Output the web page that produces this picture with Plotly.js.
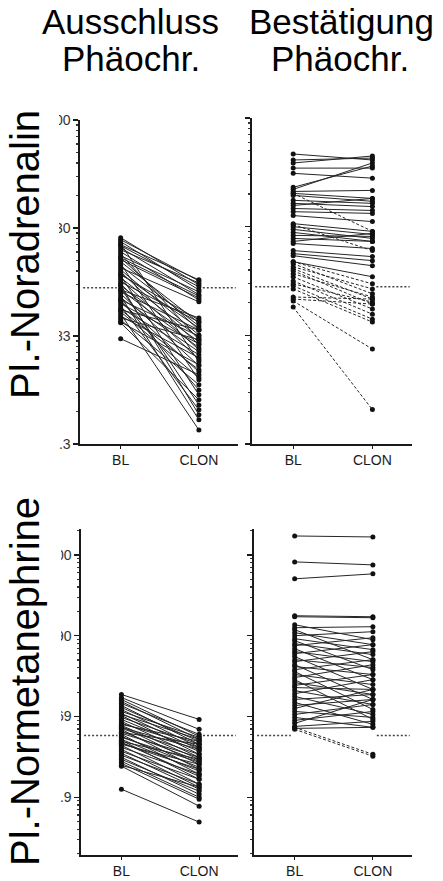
<!DOCTYPE html>
<html><head><meta charset="utf-8">
<script src="https://cdn.plot.ly/plotly-3.0.1.min.js"></script>
<style>html,body{margin:0;padding:0;background:#fff}#chart{width:443px;height:881px}</style>
</head><body><div id="chart"></div>
<script>
const categories = ['BL', 'CLON'];
const columnTitles = ['Ausschluss', 'Bestätigung'];
const columnSub = ['Phäochr.', 'Phäochr.'];
const rowTitles = ['Pl.-Noradrenalin', 'Pl.-Normetanephrine'];

// y tick labels
const neTickVals = [8.3, 83, 830, 8300];
const neTickText = ['8.3', '83', '830', '8300'];
const nmnTickVals = [6.9, 69, 690, 6900];
const nmnTickText = ['6.9', '69', '690', '6900'];

// reference (cut-off) levels
const neCutoff = [232];
const nmnCutoff = [40];

// Pl.-Noradrenalin, Ausschluss Phäochr.
const neExclBL = [675, 647, 620, 594, 569, 545, 522, 500, 479, 459, 440, 422, 404, 387, 371, 355, 341, 326, 313, 300,
  287, 275, 263, 252, 242, 232, 222, 213, 204, 195, 187, 179, 172, 165, 158, 151, 145, 139, 133, 127,
  122, 117, 112, 110, 78.4, 222, 306, 247, 179, 145, 581, 440];
const neExclCLON = [247, 269, 222, 47.9, 237, 200, 257, 179, 76.7, 213, 94.4, 187, 110, 32.6, 103, 172, 84.8, 69, 98.5, 23.7,
  80.1, 62, 112, 50, 73.5, 19.1, 64.7, 94.4, 44, 13.9, 59.4, 83, 38.7, 70.4, 17.2, 55.7, 94.4, 34.1, 11.2, 52.2,
  76.7, 29.4, 44.9, 21.3, 36.3, 122, 117, 15.5, 26.3, 40.4, 275, 195];

// Pl.-Noradrenalin, Bestätigung Phäochr. (solid)
const neConfBL = [3870, 3410, 3200, 2870, 2570, 1910, 1830, 1750, 1680, 1610, 1450, 1360, 1300, 1220, 1140, 1050, 885, 830,
  784, 735, 690, 647, 607, 581, 500, 469, 449, 395];
const neConfCLON = [3410, 3550, 3710, 2870, 2320, 3000, 3200, 1790, 1510, 1420, 1360, 1270, 1510, 1170, 1100, 924, 751, 704,
  647, 607, 675, 607, 720, 522, 440, 404, 363, 287];
// Pl.-Noradrenalin, Bestätigung Phäochr. (dashed)
const neConfDashBL = [1680, 866, 395, 379, 355, 341, 326, 306, 287, 263, 247, 237, 222, 187, 179, 172, 151];
const neConfDashCLON = [751, 500, 247, 200, 222, 179, 161, 187, 145, 130, 168, 117, 110, 179, 161, 62, 17.2];

// Pl.-Normetanephrine, Ausschluss Phäochr.
const nmnExclBL = [128.9, 118.4, 111.9, 105.6, 99.8, 94.3, 89.1, 84.2, 79.5, 75.1, 71.0, 67.1, 63.4, 59.9, 56.6, 53.4, 51.9,
  49.1, 47.7, 45.1, 42.6, 41.4, 39.1, 38.0, 35.9, 34.9, 33.0, 32.1, 30.3, 28.6, 27.0, 25.5, 24.1, 22.8, 21.5, 20.3,
  19.2, 18.1, 17.1, 16.7, 43.8, 55.0, 33.9, 31.2, 8.66, 73.0, 50.5];
const nmnExclCLON = [63.4, 47.7, 39.1, 35.9, 41.4, 31.2, 33.9, 28.6, 38.0, 27.0, 23.4, 31.2, 25.5, 21.5, 28.6, 20.3, 17.6,
  23.4, 15.3, 19.2, 21.5, 13.3, 16.2, 18.7, 14.5, 11.5, 12.5, 15.3, 10.0, 13.3, 9.2, 11.5, 8.67, 10.0, 7.5, 8.18,
  6.9, 6.52, 9.2, 5.34, 31.2, 33.9, 20.3, 17.6, 3.39, 35.9, 27.0];

// Pl.-Normetanephrine, Bestätigung Phäochr. (solid)
const nmnConfBL = [11840, 5655, 3489, 1218, 1184, 943, 866, 818, 751, 690, 633, 598, 549, 519, 476, 438, 413, 380, 348,
  329, 302, 286, 262, 248, 228, 209, 197, 181, 167, 157, 144, 132, 122, 112, 103, 94.3, 86.6, 79.5, 73.0, 67.1,
  61.6, 56.6, 51.9, 49.1];
const nmnConfCLON = [11515, 5192, 4021, 1184, 1151, 615, 891, 348, 534, 773, 463, 262, 402, 651, 197, 329, 534, 149, 278,
  438, 112, 228, 348, 84.2, 171, 302, 63.4, 129, 228, 149, 97, 197, 73.0, 129, 55.0, 112, 149, 67.1, 97, 50.5,
  79.5, 112, 59.9, 50.5];
// Pl.-Normetanephrine, Bestätigung Phäochr. (dashed)
const nmnConfDashBL = [50.5, 47.7];
const nmnConfDashCLON = [23.4, 22.2];

const W = 443, H = 881;
const fx = p => p / W;
const fy = p => 1 - p / H;
const FONT = '"Liberation Sans", Arial, Helvetica, sans-serif';
const INK = '#1a1a1a';

function pairTrace(bl, clon, xa, ya, dash) {
  const x = [], y = [];
  for (let i = 0; i < bl.length; i++) { x.push(0, 1, null); y.push(bl[i], clon[i], null); }
  return {type: 'scatter', mode: 'lines+markers', x: x, y: y, xaxis: xa, yaxis: ya,
    line: {color: '#262626', width: 1, dash: dash || 'solid'},
    marker: {size: 5, color: '#111'}, hoverinfo: 'skip', showlegend: false, cliponaxis: false};
}
function cutTrace(val, xa, ya) {
  return {type: 'scatter', mode: 'lines', x: [-0.48, -0.05, null, 1.05, 1.47], y: [val, val, null, val, val],
    xaxis: xa, yaxis: ya, line: {color: '#444', width: 1.5, dash: '2px,2px'}, hoverinfo: 'skip', showlegend: false};
}

const traces = [
  cutTrace(neCutoff[0], 'x', 'y'),
  cutTrace(neCutoff[0], 'x2', 'y2'),
  cutTrace(nmnCutoff[0], 'x3', 'y3'),
  cutTrace(nmnCutoff[0], 'x4', 'y4'),
  pairTrace(neExclBL, neExclCLON, 'x', 'y'),
  pairTrace(neConfBL, neConfCLON, 'x2', 'y2'),
  pairTrace(neConfDashBL, neConfDashCLON, 'x2', 'y2', '3px,2px'),
  pairTrace(nmnExclBL, nmnExclCLON, 'x3', 'y3'),
  pairTrace(nmnConfBL, nmnConfCLON, 'x4', 'y4'),
  pairTrace(nmnConfDashBL, nmnConfDashCLON, 'x4', 'y4', '3px,2px')
];

function xAxis(d0, d1, anchor) {
  return {domain: [fx(d0), fx(d1)], anchor: anchor, range: [-0.52, 1.5], tickmode: 'array',
    tickvals: [0, 1], ticktext: categories, ticks: 'outside', ticklen: 3, tickwidth: 1.2, tickcolor: INK,
    showline: true, linecolor: INK, linewidth: 1.6, showgrid: false, zeroline: false,
    tickfont: {family: FONT, size: 14, color: INK}, fixedrange: true};
}
function minorVals(base, lo, hi) {
  const out = [];
  for (let n = lo; n <= hi; n++) for (let k = 2; k <= 9; k++) out.push(base * k * Math.pow(10, n));
  return out;
}
function yAxis(bottomPx, topPx, anchor, range, tv, tt, showLabels, base) {
  return {domain: [fy(bottomPx), fy(topPx)], anchor: anchor, type: 'log', range: range, tickmode: 'array',
    tickvals: tv, ticktext: tt, showticklabels: showLabels, ticks: 'outside', ticklen: 5, tickwidth: 1.2,
    tickcolor: INK, showline: true, linecolor: INK, linewidth: 1.6, showgrid: false, zeroline: false,
    tickfont: {family: FONT, size: 14, color: '#333'}, fixedrange: true,
    minor: {tickmode: 'array', tickvals: minorVals(base, -2, 4), ticks: 'outside', ticklen: 2.5, tickwidth: 1.2, tickcolor: '#333'}};
}
const neRange = [Math.log10(8.3), Math.log10(8300)];
const nmnRange = [Math.log10(6.9) - 58 / 81, Math.log10(6.9) + 269 / 81];

const layout = {
  width: W, height: H, margin: {l: 0, r: 0, t: 0, b: 0}, paper_bgcolor: '#fff', plot_bgcolor: 'rgba(0,0,0,0)',
  showlegend: false,
  xaxis: xAxis(80, 238, 'y'),
  yaxis: yAxis(444, 120, 'x', neRange, neTickVals, neTickText, true, 8.3),
  xaxis2: xAxis(252, 412, 'y2'),
  yaxis2: yAxis(444, 118, 'x2', neRange, neTickVals, neTickText, false, 8.3),
  xaxis3: xAxis(81, 238, 'y3'),
  yaxis3: yAxis(855, 529, 'x3', nmnRange, nmnTickVals, nmnTickText, true, 6.9),
  xaxis4: xAxis(254, 412, 'y4'),
  yaxis4: yAxis(855, 529, 'x4', nmnRange, nmnTickVals, nmnTickText, false, 6.9),
  shapes: [
    {type: 'rect', xref: 'paper', yref: 'paper', x0: 0, x1: fx(59), y0: fy(462), y1: fy(100), fillcolor: '#fff', line: {width: 0}, layer: 'above'},
    {type: 'rect', xref: 'paper', yref: 'paper', x0: 0, x1: fx(61), y0: fy(875), y1: fy(515), fillcolor: '#fff', line: {width: 0}, layer: 'above'}
  ],
  annotations: [
    {text: columnTitles[0], x: fx(130), y: fy(21), xref: 'paper', yref: 'paper', showarrow: false, xanchor: 'center', yanchor: 'middle', font: {family: FONT, size: 35, color: '#000'}},
    {text: columnSub[0], x: fx(131), y: fy(59), xref: 'paper', yref: 'paper', showarrow: false, xanchor: 'center', yanchor: 'middle', font: {family: FONT, size: 35, color: '#000'}},
    {text: columnTitles[1], x: fx(341), y: fy(21), xref: 'paper', yref: 'paper', showarrow: false, xanchor: 'center', yanchor: 'middle', font: {family: FONT, size: 35, color: '#000'}},
    {text: columnSub[1], x: fx(340), y: fy(59), xref: 'paper', yref: 'paper', showarrow: false, xanchor: 'center', yanchor: 'middle', font: {family: FONT, size: 35, color: '#000'}},
    {text: rowTitles[0], x: fx(25), y: fy(255), xref: 'paper', yref: 'paper', showarrow: false, xanchor: 'center', yanchor: 'middle', textangle: -90, font: {family: FONT, size: 40, color: '#000'}},
    {text: rowTitles[1], x: fx(25), y: fy(682), xref: 'paper', yref: 'paper', showarrow: false, xanchor: 'center', yanchor: 'middle', textangle: -90, font: {family: FONT, size: 40, color: '#000'}}
  ]
};
Plotly.newPlot('chart', traces, layout, {staticPlot: true, displayModeBar: false});
</script>
</body></html>
